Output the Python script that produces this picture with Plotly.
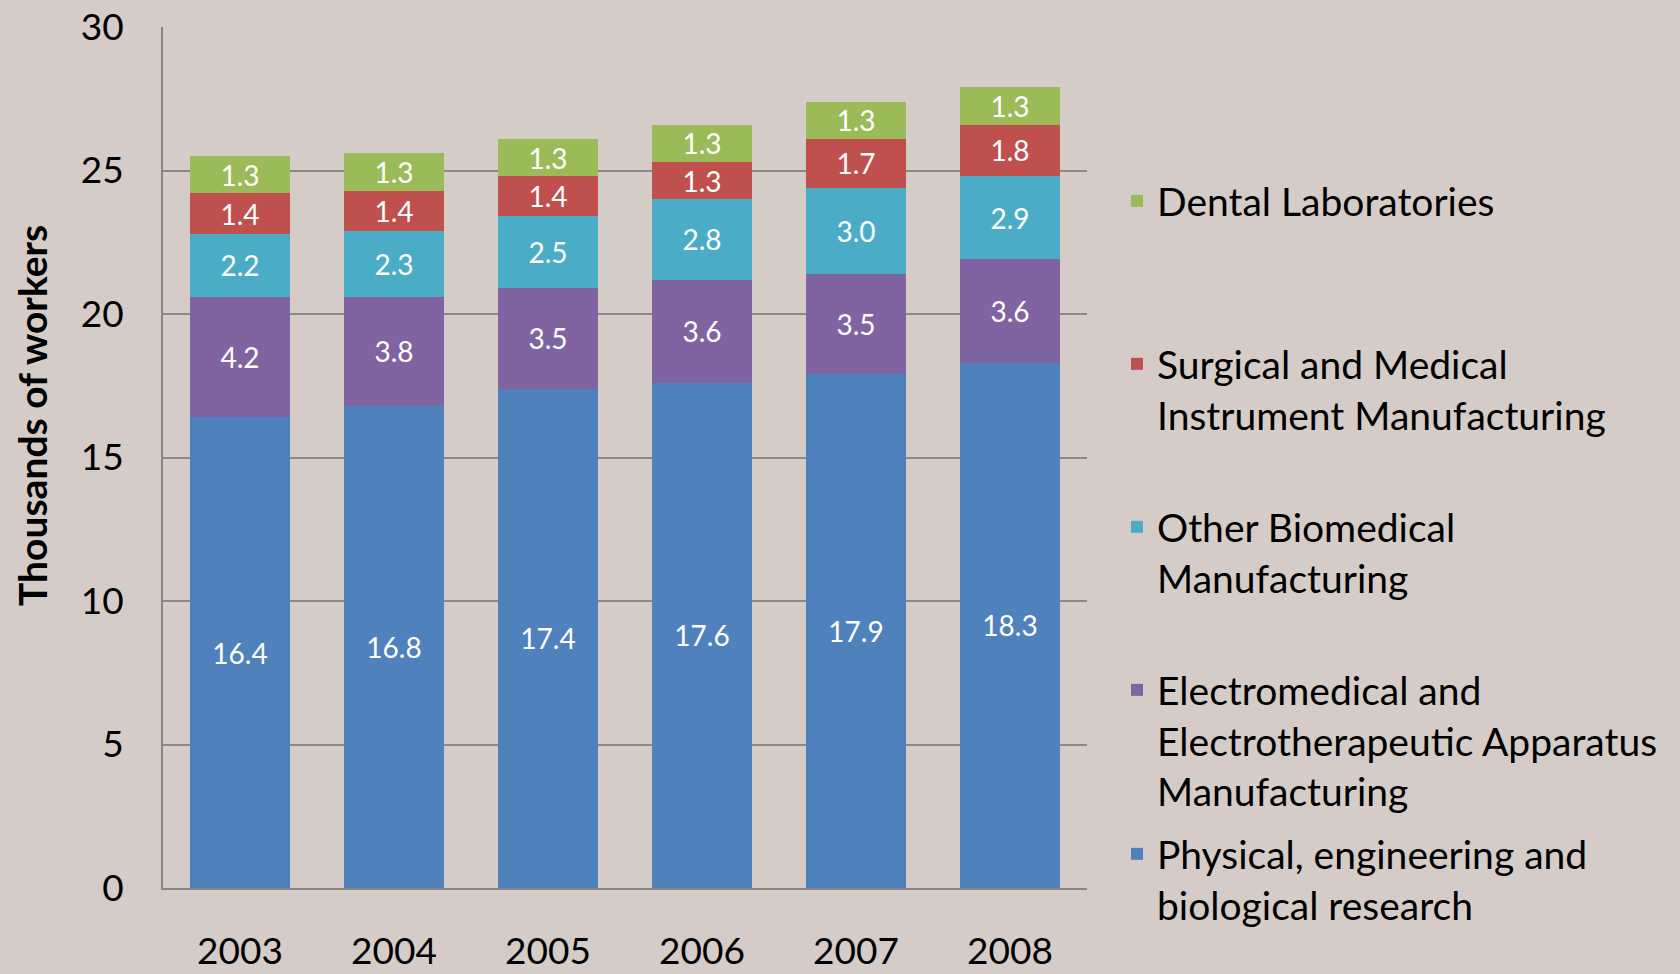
import plotly.graph_objects as go

years = ["2003", "2004", "2005", "2006", "2007", "2008"]
physical = [16.4, 16.8, 17.4, 17.6, 17.9, 18.3]
electro = [4.2, 3.8, 3.5, 3.6, 3.5, 3.6]
other_bio = [2.2, 2.3, 2.5, 2.8, 3.0, 2.9]
surgical = [1.4, 1.4, 1.4, 1.3, 1.7, 1.8]
dental = [1.3, 1.3, 1.3, 1.3, 1.3, 1.3]

series = [
    ("Physical, engineering and<br>biological research", physical, "#4f81bd", "legend5"),
    ("Electromedical and<br>Electrotherapeutic Apparatus<br>Manufacturing", electro, "#8064a2", "legend4"),
    ("Other Biomedical<br>Manufacturing", other_bio, "#4bacc6", "legend3"),
    ("Surgical and Medical<br>Instrument Manufacturing", surgical, "#c0504d", "legend2"),
    ("Dental Laboratories", dental, "#9bbb59", "legend"),
]

FONT = "Lato"
BG = "#d5ccc7"
W, H = 1680, 974
L, R, T, B = 163, 593, 27, 86

fig = go.Figure()
for name, vals, color, lg in series:
    fig.add_trace(go.Bar(
        x=years, y=vals, name=name, marker_color=color,
        marker_line_width=0,
        text=[f"{v:.1f}" for v in vals],
        textposition="inside", insidetextanchor="middle",
        textangle=0, constraintext="none",
        textfont=dict(color="white", size=28, family=FONT),
        legend=lg,
    ))

def py(pix):
    return (H - B - pix) / (H - T - B)

def px(pix):
    return (pix - L) / (W - L - R)

legend_tops = {"legend": 169, "legend2": 332, "legend3": 495, "legend4": 658, "legend5": 822}
legend_cfg = {}
for key, top in legend_tops.items():
    legend_cfg[key] = dict(
        x=px(1117), y=py(top), xanchor="left", yanchor="top",
        bgcolor="rgba(0,0,0,0)", borderwidth=0,
        font=dict(family=FONT, size=39, color="black"),
        valign="top", itemclick=False,
    )

fig.update_layout(
    width=W, height=H,
    margin=dict(l=L, r=R, t=T, b=B, autoexpand=False),
    paper_bgcolor=BG, plot_bgcolor="rgba(0,0,0,0)",
    barmode="stack", bargap=0.35,
    font=dict(family=FONT, size=37, color="black"),
    showlegend=True,
    **legend_cfg,
    xaxis=dict(
        showline=True, linecolor="#868686", linewidth=2,
        showgrid=False, ticks="", ticklabelstandoff=30,
        tickfont=dict(family=FONT, size=37, color="black"),
    ),
    yaxis=dict(
        range=[0, 30], tickvals=[0, 5, 10, 15, 20, 25, 30],
        showline=True, linecolor="#868686", linewidth=2,
        showgrid=True, gridcolor="#8a8a8a", gridwidth=2,
        zeroline=False, ticks="", ticklabelstandoff=30,
        tickfont=dict(family=FONT, size=37, color="black"),
    ),
    annotations=[dict(
        text="<b>Thousands of workers</b>", textangle=-90,
        xref="paper", yref="paper", x=px(32), y=py(416),
        xanchor="center", yanchor="middle", showarrow=False,
        font=dict(family=FONT, size=39, color="black"),
    )],
)

fig.write_html(
    "out.html",
    config={"displayModeBar": False},
    post_script="document.body.style.margin='0';document.body.style.background='" + BG + "';",
)
